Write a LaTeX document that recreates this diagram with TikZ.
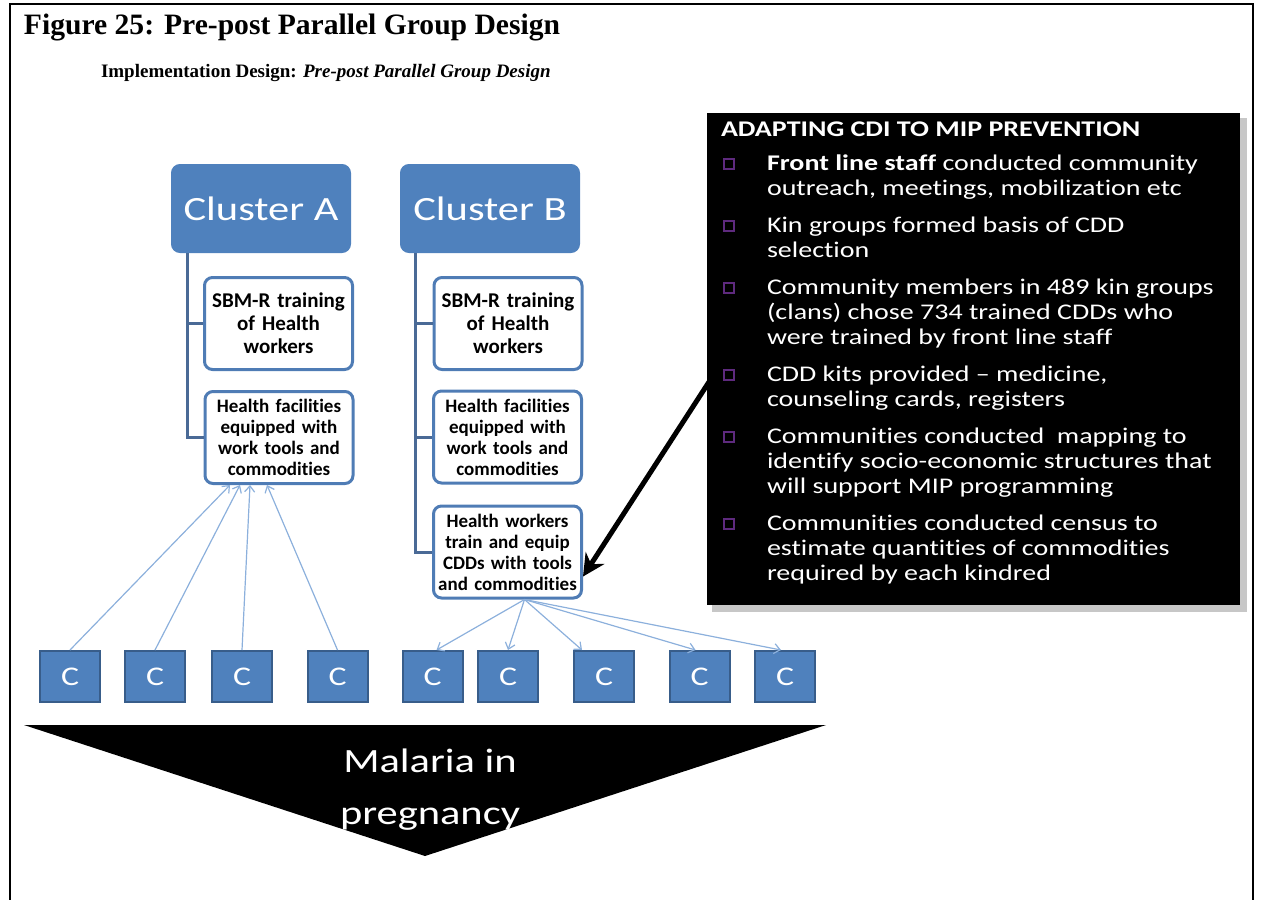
\documentclass[tikz,border=0pt]{standalone}
\usepackage{fontspec}
\setmainfont{Liberation Serif}
\newfontfamily\slidefont[FakeStretch=1.25, Ligatures=CommonOff]{Carlito}
\newfontfamily\boxfont[Ligatures=CommonOff]{Carlito}
\usetikzlibrary{arrows.meta, calc}
\definecolor{cblue}{HTML}{4F81BD}
\definecolor{cbluedark}{HTML}{385D8A}
\definecolor{cframe}{HTML}{4F7CB5}
\definecolor{ctree}{HTML}{4A6A96}
\definecolor{clight}{HTML}{8CB0DC}
\definecolor{cpurple}{HTML}{5E2A7E}
\tikzset{
  every picture/.style={line width=1pt},
  cluster/.style={fill=cblue, draw=cblue, rounded corners=4pt, minimum width=89pt, minimum height=43.5pt, inner sep=0, text=white, font=\slidefont\fontsize{17}{18}\selectfont},
  task/.style={draw=cframe, fill=white, line width=1.5pt, rounded corners=4pt, minimum width=74pt, minimum height=46pt, inner sep=1pt, text width=70pt, align=center, font=\boxfont\bfseries\fontsize{9.5}{10.5}\selectfont},
  cbox/.style={fill=cblue, draw=cbluedark, minimum width=30pt, minimum height=25.5pt, inner sep=0, text=white, font=\slidefont\fontsize{13.5}{14}\selectfont},
  tree/.style={draw=ctree, line width=1.5pt},
  thinarrow/.style={-{Straight Barb[length=3pt, width=5pt]}, draw=clight, line width=0.6pt},
  bigarrow/.style={-{Stealth[length=11pt, width=11pt]}, line width=2.5pt},
  boxtxt/.style={anchor=base west, inner sep=0, text=white, font=\slidefont\fontsize{11.2}{12}\selectfont},
  bul/.style={draw=cpurple, line width=0.8pt, minimum size=5pt, inner sep=0},
}
\begin{document}
\begin{tikzpicture}[x=0.5pt, y=-0.5pt]
  \useasboundingbox (0,0) rectangle (1261,899);
  % frame
  \draw (10,900) -- (10,4) -- (1253,4) -- (1253,900);
  \node[anchor=base west, inner sep=0, font=\bfseries\fontsize{14.8}{18}\selectfont] (fig) at (23,35) {Figure 25: Pre-post Parallel Group Design};
  \node[anchor=base west, inner sep=0, font=\bfseries\fontsize{9.5}{10}\selectfont] (sub) at (100,77) {Implementation Design: \textit{Pre-post Parallel Group Design}};
  % clusters and their steps
  \node[cluster] (clA) at (261,208.5) {Cluster A};
  \node[cluster] (clB) at (490,208.5) {Cluster B};
  \node[task, font=\boxfont\bfseries\fontsize{10.5}{11.5}\selectfont] (sbmA) at (278.5,323.5) {SBM-R training\\of Health\\workers};
  \node[task] (hfA) at (279,437.5) {Health facilities\\equipped with\\work tools and\\commodities};
  \node[task, font=\boxfont\bfseries\fontsize{10.5}{11.5}\selectfont] (sbmB) at (508,323.5) {SBM-R training\\of Health\\workers};
  \node[task] (hfB) at (507.5,437) {Health facilities\\equipped  with\\work tools and\\commodities\hspace*{20pt}};
  \node[task] (hwB) at (507.5,552) {Health workers\\train and  equip\\CDDs with tools\\and commodities};
  \draw[tree] ([xshift=8pt]clA.south west) |- (sbmA.west);
  \draw[tree] ([xshift=8pt]clA.south west) |- (hfA.west);
  \draw[tree] ([xshift=7.5pt]clB.south west) |- (sbmB.west);
  \draw[tree] ([xshift=7.5pt]clB.south west) |- (hfB.west);
  \draw[tree] ([xshift=7.5pt]clB.south west) |- (hwB.west);
  % communities
  \foreach \i/\x in {1/70,2/155,3/242,4/337.5,5/432.5,6/508,7/604,8/699.5,9/785}
    \node[cbox] (c\i) at (\x,676.5) {C};
  \foreach \i/\dx in {1/-24.5,2/-19.5,3/-14.5,4/-6}
    \draw[thinarrow] (c\i.north) -- ([xshift=\dx pt]hfA.south);
  \foreach \i/\dx in {5/2,6/0,7/-11,8/-2,9/-2}
    \draw[thinarrow] ([xshift=8.5pt]hwB.south) -- ([xshift=\dx pt]c\i.north);
  % CDI box
  \coordinate (tail) at (740,334);
  \fill[black!22] (712,118) rectangle (1247,612);
  \node[fill=black, minimum width=266.5pt, minimum height=246pt, inner sep=0] (adapt) at (973.5,359) {};
  \draw[bigarrow] (tail) -- (hwB.-18);
  \node[boxtxt, font=\slidefont\bfseries\fontsize{11.2}{12}\selectfont] (head) at (720,136) {ADAPTING CDI TO MIP PREVENTION};
  \foreach \y in {170,232,294,381,443,530}
    \node[bul] (bu\y) at (729,\y-6) {};
  \foreach \y/\t in {170/{\textbf{Front line staff} conducted community}, 195/{outreach, meetings, mobilization etc},
      232/{Kin groups formed basis of CDD}, 257/{selection},
      294/{Community members in 489 kin groups}, 319/{(clans) chose 734 trained CDDs who}, 344/{were trained by front line staff},
      381/{CDD kits provided – medicine,}, 406/{counseling cards, registers},
      443/{Communities conducted \ mapping to}, 468/{identify socio-economic structures that}, 493/{will support MIP programming},
      530/{Communities conducted census to}, 555/{estimate quantities of commodities}, 580/{required by each kindred}}
    \node[boxtxt] (ln\y) at (766,\y) {\t};
  % outcome
  \fill (24,725) -- (826,725) -- (425,856) -- cycle;
  \node[align=center, text=white, inner sep=0, font=\slidefont\fontsize{17}{26}\selectfont] (mip) at (430,790) {Malaria in\\pregnancy};
\end{tikzpicture}
\end{document}
